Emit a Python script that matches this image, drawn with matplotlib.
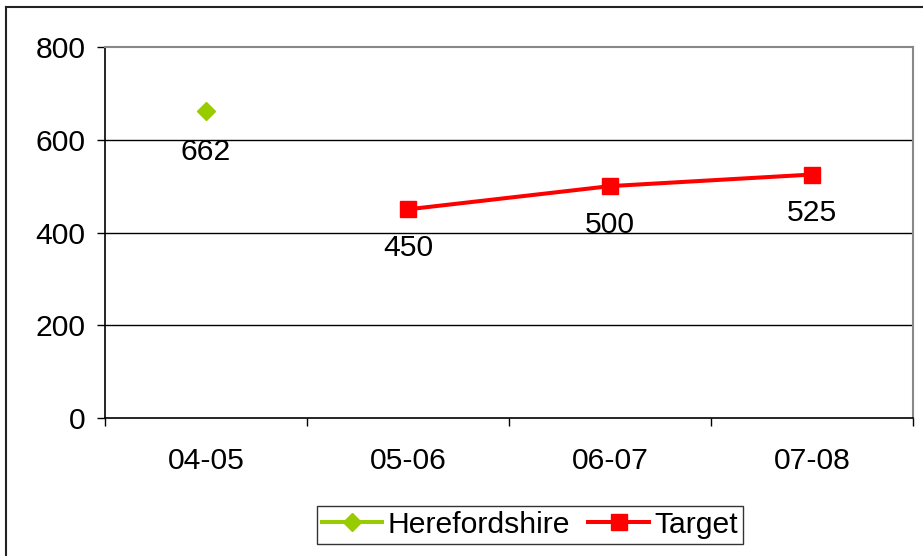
import matplotlib
matplotlib.use("Agg")
import matplotlib.pyplot as plt
from matplotlib.lines import Line2D
import numpy as np

categories = ["04-05", "05-06", "06-07", "07-08"]
herefordshire = [662, np.nan, np.nan, np.nan]
target = [np.nan, 450, 500, 525]
yticks = [0, 200, 400, 600, 800]

plt.rcParams['font.family'] = ['Liberation Sans', 'DejaVu Sans']
FS = 21.7
W, H = 923, 556
fig = plt.figure(figsize=(W / 100, H / 100), dpi=100)
left, right, top, bottom = 105, 913, 47, 418
ax = fig.add_axes([left / W, 1 - bottom / H, (right - left) / W, (bottom - top) / H])

x = np.arange(len(categories))
green = '#99CC00'
red = '#FF0000'
ax.plot(x, herefordshire, color=green, lw=2.9, marker='D', ms=9.5, label='Herefordshire',
        markeredgecolor=green)
ax.plot(x, target, color=red, lw=2.9, marker='s', ms=11, label='Target',
        markeredgecolor=red)

for xi, v in zip(x, herefordshire):
    if not np.isnan(v):
        ax.annotate(f"{v:.0f}", (xi, v), xytext=(0, -29.5), textcoords='offset points',
                    ha='center', va='center', fontsize=FS)
for xi, v in zip(x, target):
    if not np.isnan(v):
        ax.annotate(f"{v:.0f}", (xi, v), xytext=(0, -28), textcoords='offset points',
                    ha='center', va='center', fontsize=FS)

ax.set_xlim(-0.5, len(categories) - 0.5)
ax.set_ylim(0, 800)
ax.set_yticks(yticks)
ax.set_yticklabels([str(v) for v in yticks], fontsize=FS)
ax.set_xticks(x)
ax.set_xticklabels(categories, fontsize=FS)
ax.tick_params(axis='x', length=0, pad=21)
ax.set_xticks(np.arange(-0.5, len(categories), 1), minor=True)
ax.tick_params(axis='x', which='minor', length=6, width=1, direction='out', color='black')
ax.tick_params(axis='y', length=6, width=1, direction='out', pad=8)
for v in yticks[1:-1]:
    ax.axhline(v, color='black', lw=1, zorder=0)

ax.spines['left'].set_color('black')
ax.spines['bottom'].set_color('black')
ax.spines['left'].set_linewidth(1.2)
ax.spines['bottom'].set_linewidth(1.2)
ax.spines['top'].set_color('#888888')
ax.spines['right'].set_color('#888888')
ax.spines['top'].set_linewidth(1.5)
ax.spines['right'].set_linewidth(1.5)

leg = fig.legend(loc='center', bbox_to_anchor=(530 / W, 1 - 525 / H), ncol=2,
                 fontsize=FS, frameon=True, fancybox=False, edgecolor='black',
                 handlelength=2.0, handletextpad=0.2, columnspacing=0.6,
                 borderpad=0.15, borderaxespad=0)
leg.get_frame().set_linewidth(1)

# outer border (left and top visible)
fig.add_artist(Line2D([6 / W, 6 / W], [0, 1 - 7 / H], transform=fig.transFigure,
                      color='#222222', lw=1.5))
fig.add_artist(Line2D([6 / W, 1], [1 - 7 / H, 1 - 7 / H], transform=fig.transFigure,
                      color='#222222', lw=1.5))

fig.savefig("out.png", dpi=100)
